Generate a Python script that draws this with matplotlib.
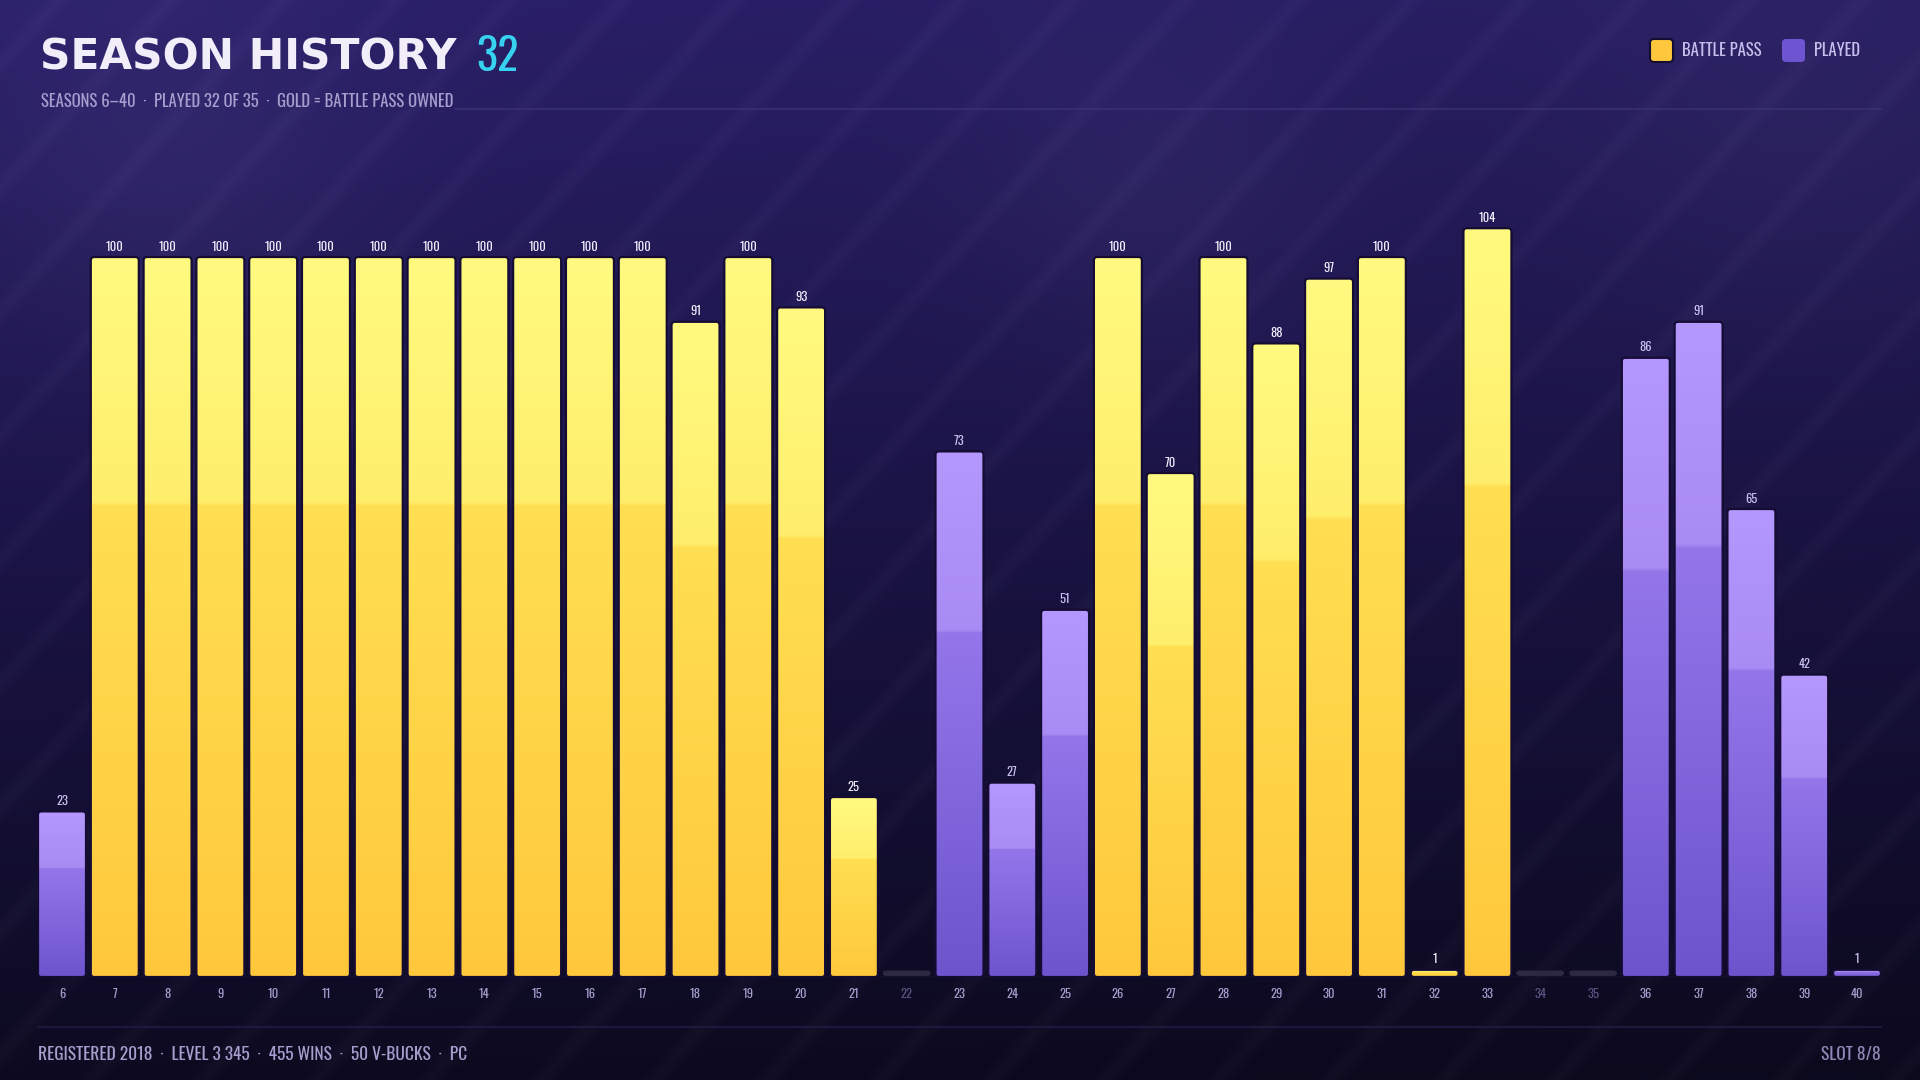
import numpy as np
import matplotlib
matplotlib.use("Agg")
import matplotlib.pyplot as plt
from matplotlib import font_manager as fm
from matplotlib.patches import FancyBboxPatch
from matplotlib.colors import to_rgb

# ---- data ----
seasons = list(range(6, 41))
tier = [23, 100, 100, 100, 100, 100, 100, 100, 100, 100, 100, 100, 91, 100, 93, 25,
        0, 73, 27, 51, 100, 70, 100, 88, 97, 100, 1, 104, 0, 0, 86, 91, 65, 42, 1]
battle_pass = [0, 1, 1, 1, 1, 1, 1, 1, 1, 1, 1, 1, 1, 1, 1, 1,
               0, 0, 0, 0, 1, 1, 1, 1, 1, 1, 1, 1, 0, 0, 0, 0, 0, 0, 0]
played = [1, 1, 1, 1, 1, 1, 1, 1, 1, 1, 1, 1, 1, 1, 1, 1,
          0, 1, 1, 1, 1, 1, 1, 1, 1, 1, 1, 1, 0, 0, 1, 1, 1, 1, 1]

title = "SEASON HISTORY"
title_count = "32"
subtitle = "SEASONS 6\u201340  \u00b7  PLAYED 32 OF 35  \u00b7  GOLD = BATTLE PASS OWNED"
footer = "REGISTERED 2018  \u00b7  LEVEL 3 345  \u00b7  455 WINS  \u00b7  50 V-BUCKS  \u00b7  PC"
slot_text = "SLOT 8/8"
legend_labels = ["BATTLE PASS", "PLAYED"]

# ---- fonts ----
avail = {f.name for f in fm.fontManager.ttflist}


def pick(cands):
    for c in cands:
        if c in avail:
            return c
    return "DejaVu Sans"


COND = pick(["Oswald", "Bebas Neue", "Roboto Condensed", "Open Sans Condensed",
             "Liberation Sans Narrow", "DejaVu Sans"])
HEAVY = "DejaVu Sans"

# ---- colours ----
GOLD_STOPS = ["#ffc83c", "#ffdf52", "#ffee6c", "#fffb80"]
PURPLE_STOPS = ["#6d54cd", "#9476ea", "#a98bf4", "#b498fd"]
EMPTY = "#2d2943"
OUTLINE = "#150c34"
TXT_DIM = "#5a5482"
MUTED = "#a69fce"

W, H = 1920, 1080
fig = plt.figure(figsize=(19.2, 10.8), dpi=100)

# ---- background: vertical gradient + faint diagonal stripes ----
bg = fig.add_axes([0, 0, 1, 1], zorder=-10)
hh, ww = 540, 960
yy, xx = np.mgrid[0:hh, 0:ww]
t = yy / (hh - 1)
c_top = np.array(to_rgb("#2b206a"))
c_mid = np.array(to_rgb("#1b1447"))
c_bot = np.array(to_rgb("#0d0a20"))
img = np.where((t < 0.5)[..., None],
               c_top + (c_mid - c_top) * (t / 0.5)[..., None],
               c_mid + (c_bot - c_mid) * ((t - 0.5) / 0.5)[..., None])
img = img * (1 - 0.10 * (xx / ww))[..., None]
phase = ((xx * 1.1 + yy) % 62) / 62.0
stripe = np.clip(1 - np.abs(phase - 0.5) / 0.16, 0, 1)
img = img + 0.022 * stripe[..., None]
for gx, gy, gr, ga in [(85, 80, 70, 0.035), (575, 95, 60, 0.03), (900, 60, 80, 0.025)]:
    g = np.exp(-((xx - gx) ** 2 + (yy - gy) ** 2) / (2 * gr ** 2))
    img = img + ga * g[..., None]
img = np.clip(img, 0, 1)
bg.imshow(img, extent=(0, W, H, 0), aspect="auto", interpolation="bilinear")
bg.set_xlim(0, W)
bg.set_ylim(H, 0)
bg.axis("off")

# ---- main bar axes ----
pitch_px = 52.79
bar_px = 48
w = bar_px / pitch_px
px_per_unit = 7.2
ax_left, ax_right = 38, 1881
base_y = 977
ax_top = 150
ax = fig.add_axes([ax_left / W, (H - base_y) / H, (ax_right - ax_left) / W, (base_y - ax_top) / H])
ax.set_facecolor("none")
x = np.arange(len(seasons))
aspect = pitch_px / px_per_unit
rnd = 3.5 / pitch_px


def gradient(stops, n=256):
    f = np.linspace(0, 1, n)
    cs = np.array([to_rgb(c) for c in stops])
    pos = [0.0, 0.655, 0.66, 1.0]
    return np.stack([np.interp(f, pos, cs[:, k]) for k in range(3)], axis=-1)


grad_gold = gradient(GOLD_STOPS)
grad_purple = gradient(PURPLE_STOPS)

for i, s in enumerate(seasons):
    v = tier[i]
    if not played[i]:
        stub = FancyBboxPatch((x[i] - w / 2, 0.15), w, 0.75,
                              boxstyle=f"round,pad=0,rounding_size={rnd}",
                              mutation_aspect=aspect, facecolor=EMPTY, edgecolor="none", zorder=2)
        ax.add_patch(stub)
        continue
    grad = grad_gold if battle_pass[i] else grad_purple
    shape = FancyBboxPatch((x[i] - w / 2, 0), w, v,
                           boxstyle=f"round,pad=0,rounding_size={rnd}",
                           mutation_aspect=aspect, facecolor="none", edgecolor=OUTLINE,
                           linewidth=1.6, zorder=4)
    ax.add_patch(shape)
    im = ax.imshow(grad[:, None, :], extent=(x[i] - w / 2, x[i] + w / 2, 0, v),
                   origin="lower", aspect="auto", interpolation="bilinear", zorder=3)
    im.set_clip_path(shape)
    lab_col = "#f2effc" if battle_pass[i] else "#cbc2f2"
    ax.annotate(str(v), (x[i], v), xytext=(0, 7.5), textcoords="offset points",
                ha="center", va="center", fontsize=9, color=lab_col, family=COND, zorder=5)

ax.axhline(0, color="#2a2450", lw=1.0, zorder=1)
ax.set_xlim(-w / 2, x[-1] + w / 2)
ax.set_ylim(0, (base_y - ax_top) / px_per_unit)
ax.set_xticks(x)
ax.set_xticklabels([str(s) for s in seasons], family=COND, fontsize=9)
for lbl, p in zip(ax.get_xticklabels(), played):
    lbl.set_color(MUTED if p else TXT_DIM)
ax.tick_params(axis="x", length=0, pad=8)
ax.set_yticks([])
for sp in ax.spines.values():
    sp.set_visible(False)

# ---- header ----
t1 = bg.text(40, 69, title, fontsize=30.5, weight="heavy", color="#f1eefa",
             family=HEAVY, va="baseline", ha="left")
fig.canvas.draw()
bb = t1.get_window_extent()
bg.text(bb.x1 + 20, 71, title_count, fontsize=32, color="#37d2ef", family=COND,
        va="baseline", ha="left")
t2 = bg.text(41, 107, subtitle, fontsize=12, color=MUTED, family=COND,
             va="baseline", ha="left")
fig.canvas.draw()
bb2 = t2.get_window_extent()
bg.plot([bb2.x1 + 2, 1881], [109, 109], color="#3a3176", lw=1.2, alpha=0.9)

# legend
for (lx, col, lab) in [(1650, GOLD_STOPS[0], legend_labels[0]), (1782, "#6e54d0", legend_labels[1])]:
    sq = FancyBboxPatch((lx, 39), 23, 23, boxstyle="round,pad=0,rounding_size=4",
                        facecolor=col, edgecolor=OUTLINE if col == GOLD_STOPS[0] else "none",
                        linewidth=1.5)
    bg.add_patch(sq)
    bg.text(lx + 32, 51, lab, fontsize=12, color="#c6bfee", family=COND, va="center", ha="left")

# ---- footer ----
bg.plot([38, 1881], [1027, 1027], color="#221c44", lw=1.2)
bg.text(38, 1054, footer, fontsize=12.5, color=MUTED, family=COND, va="center", ha="left")
bg.text(1881, 1054, slot_text, fontsize=12.5, color="#8e88b6", family=COND, va="center", ha="right")

fig.savefig("out.png", dpi=100)
